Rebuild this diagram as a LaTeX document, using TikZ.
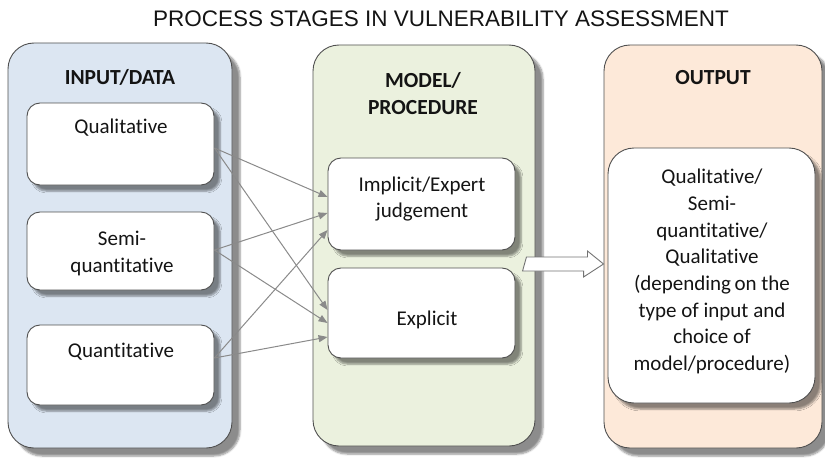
\documentclass[tikz,border=0pt]{standalone}
\usepackage{fontspec}
\setmainfont{Carlito}[Ligatures=NoCommon]
\newfontfamily\titlefont{Liberation Sans}
\usetikzlibrary{arrows.meta,shadows.blur}
\definecolor{panelblue}{HTML}{DCE6F2}
\definecolor{panelgreen}{HTML}{EBF1DE}
\definecolor{panelorange}{HTML}{FDE9D9}
\definecolor{edgegray}{HTML}{505050}
\definecolor{linkgray}{HTML}{8A8A8A}
\definecolor{txt}{HTML}{141414}
\begin{document}
\begin{tikzpicture}[x=1pt,y=-1pt,
  panel/.style={draw=edgegray, line width=0.9pt, rounded corners=26pt, inner sep=0pt,
    blur shadow={shadow xshift=8pt, shadow yshift=-8pt, shadow blur steps=6, shadow opacity=45}},
  innerbox/.style={draw=edgegray, fill=white, line width=0.9pt, rounded corners=13pt, inner sep=0pt,
    blur shadow={shadow xshift=6pt, shadow yshift=-6pt, shadow blur steps=5, shadow opacity=45}},
  boxtext/.style={font=\fontsize{21}{26.7}\selectfont, text=txt, align=center, inner sep=0pt},
  headtext/.style={font=\fontsize{21.5}{27}\selectfont\bfseries, text=txt, align=center, inner sep=0pt},
  link/.style={draw=linkgray, line width=1pt, -{Triangle[length=9pt,width=7pt]}},
  bigarrow/.style={draw=edgegray!80, fill=white, line width=0.9pt}
]
\useasboundingbox (0,0) rectangle (825,460);

% title
\node[font=\titlefont\fontsize{22.5}{26}\selectfont, text=txt, inner sep=0pt] (title) at (441,19) {PROCESS STAGES IN VULNERABILITY ASSESSMENT};

% panels
\node[panel, fill=panelblue, minimum width=224pt, minimum height=405pt] (inpanel) at (120,245.5) {};
\node[panel, fill=panelgreen, minimum width=222pt, minimum height=401pt] (modpanel) at (424,245.5) {};
\node[panel, fill=panelorange, minimum width=218pt, minimum height=403pt] (outpanel) at (713,246.5) {};

% headings
\node[headtext] (inhead) at (120,77) {INPUT/DATA};
\node[headtext] (modhead) at (423,93.5) {MODEL/\\PROCEDURE};
\node[headtext] (outhead) at (713,78) {OUTPUT};

% input boxes
\node[innerbox, minimum width=187pt, minimum height=82pt] (qual) at (120.5,144) {};
\node[innerbox, minimum width=187pt, minimum height=78pt] (semi) at (120.5,251) {};
\node[innerbox, minimum width=187pt, minimum height=80pt] (quant) at (120.5,365) {};
\node[boxtext] (qualt) at (121,128) {Qualitative};
\node[boxtext] (semit) at (122,253.5) {Semi-\\quantitative};
\node[boxtext] (quantt) at (121,352) {Quantitative};

% model boxes
\node[innerbox, minimum width=187pt, minimum height=92pt] (impl) at (421.5,204) {};
\node[innerbox, minimum width=187pt, minimum height=90pt] (expl) at (421.5,313) {};
\node[boxtext] (implt) at (422,199) {Implicit/Expert\\judgement};
\node[boxtext] (explt) at (427,320) {Explicit};

% output box
\node[innerbox, rounded corners=26pt, minimum width=207pt, minimum height=255pt] (outbox) at (711.5,275.5) {};
\node[boxtext] (outt) at (712,271.5) {Qualitative/\\Semi-\\quantitative/\\Qualitative\\(depending\,on the\\type of input and\\choice of\\model/procedure)};

% connectors
\draw[link] ([yshift=-4pt]qual.east) -- ([yshift=7pt]impl.west);
\draw[link] ([yshift=-4pt]qual.east) -- ([yshift=3pt]expl.west);
\draw[link] ([yshift=1pt]semi.east) -- ([yshift=-9pt]impl.west);
\draw[link] ([yshift=1pt]semi.east) -- ([yshift=-10pt]expl.west);
\draw[link] ([yshift=7pt]quant.east) -- ([yshift=-26pt]impl.west);
\draw[link] ([yshift=7pt]quant.east) -- ([yshift=-24pt]expl.west);

% block arrow from model panel to output panel
\coordinate (arrstart) at ([xshift=-9pt,yshift=-18.5pt]modpanel.east);
\coordinate (arrtip) at ([yshift=-17.5pt]outpanel.west);
\draw[bigarrow] (arrstart) ++(0,-7) -- ++(61,0) -- ++(0,-6) -- (arrtip) -- ++(-20,13) -- ++(0,-6) -- ++(-61,0) -- cycle;
\end{tikzpicture}
\end{document}
